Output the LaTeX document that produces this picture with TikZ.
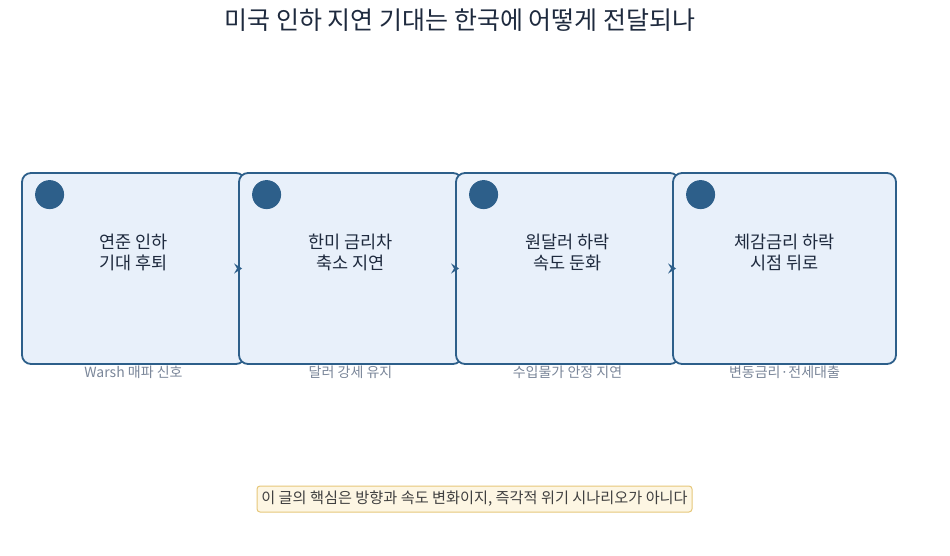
\documentclass[tikz,border=0pt]{standalone}
\usepackage{fontspec}
\setmainfont{Noto Sans CJK KR}
\usetikzlibrary{positioning,arrows.meta}

\definecolor{boxfill}{HTML}{E8F0FA}
\definecolor{boxline}{HTML}{2D5F8A}
\definecolor{inkdark}{HTML}{1E2A3E}
\definecolor{capgray}{HTML}{7A8699}
\definecolor{notefill}{HTML}{FDF6E3}
\definecolor{noteline}{HTML}{E6C77A}

\tikzset{
  stage/.style={draw=boxline, fill=boxfill, line width=1.8pt, rounded corners=9pt,
    minimum width=223pt, minimum height=191pt, inner sep=0pt},
  dot/.style={circle, fill=boxline, minimum size=29pt, inner sep=0pt},
  stagetext/.style={text=inkdark, font=\fontsize{17.5}{21}\selectfont, align=center},
  caption/.style={text=capgray, font=\fontsize{14}{16}\selectfont},
  flow/.style={-{Stealth[length=8pt,width=10pt,inset=3pt]}, line width=2.2pt, draw=boxline}
}

\begin{document}
\begin{tikzpicture}[x=1pt, y=-1pt, node distance=-7.8pt]

        \useasboundingbox (0,0) rectangle (950,556);

        % Title
        \node[text=inkdark, font=\fontsize{25}{30}\selectfont] (title) at (460,20) {미국 인하 지연 기대는 한국에 어떻게 전달되나};

        % Captions under the stages
        \node[caption] (cap1) at (133.5,372) {Warsh 매파 신호};
        \node[caption] (cap2) at (350.5,372) {달러 강세 유지};
        \node[caption] (cap3) at (567.5,372) {수입물가 안정 지연};
        \node[caption] (cap4) at (784.5,372) {변동금리·전세대출};

        % Stages
        \node[stage] (box1) at (133.5,268.5) {};
        \node[stage, right=of box1] (box2) {};
        \node[stage, right=of box2] (box3) {};
        \node[stage, right=of box3] (box4) {};

        % Markers and texts
        \foreach \i/\txt in {1/{연준 인하\\기대 후퇴}, 2/{한미 금리차\\축소 지연}, 3/{원달러 하락\\속도 둔화}, 4/{체감금리 하락\\시점 뒤로}} {
          \node[dot] (dot\i) at ([xshift=28.5pt,yshift=-22.5pt]box\i.north west) {};
          \node[stagetext] (text\i) at ([yshift=16pt]box\i.center) {\txt};
        }

        % Arrows between stages
        \draw[flow] ([xshift=-6pt]box1.east) -- ([xshift=4pt]box2.west);
        \draw[flow] ([xshift=-6pt]box2.east) -- ([xshift=4pt]box3.west);
        \draw[flow] ([xshift=-6pt]box3.east) -- ([xshift=4pt]box4.west);

        % Note
        \node[draw=noteline, fill=notefill, line width=1pt, rounded corners=3pt,
          minimum width=435pt, minimum height=26pt, text=black!75,
          font=\fontsize{15.2}{18}\selectfont] (note) at (474.5,499) {이 글의 핵심은 방향과 속도 변화이지, 즉각적 위기 시나리오가 아니다};

\end{tikzpicture}
\end{document}
